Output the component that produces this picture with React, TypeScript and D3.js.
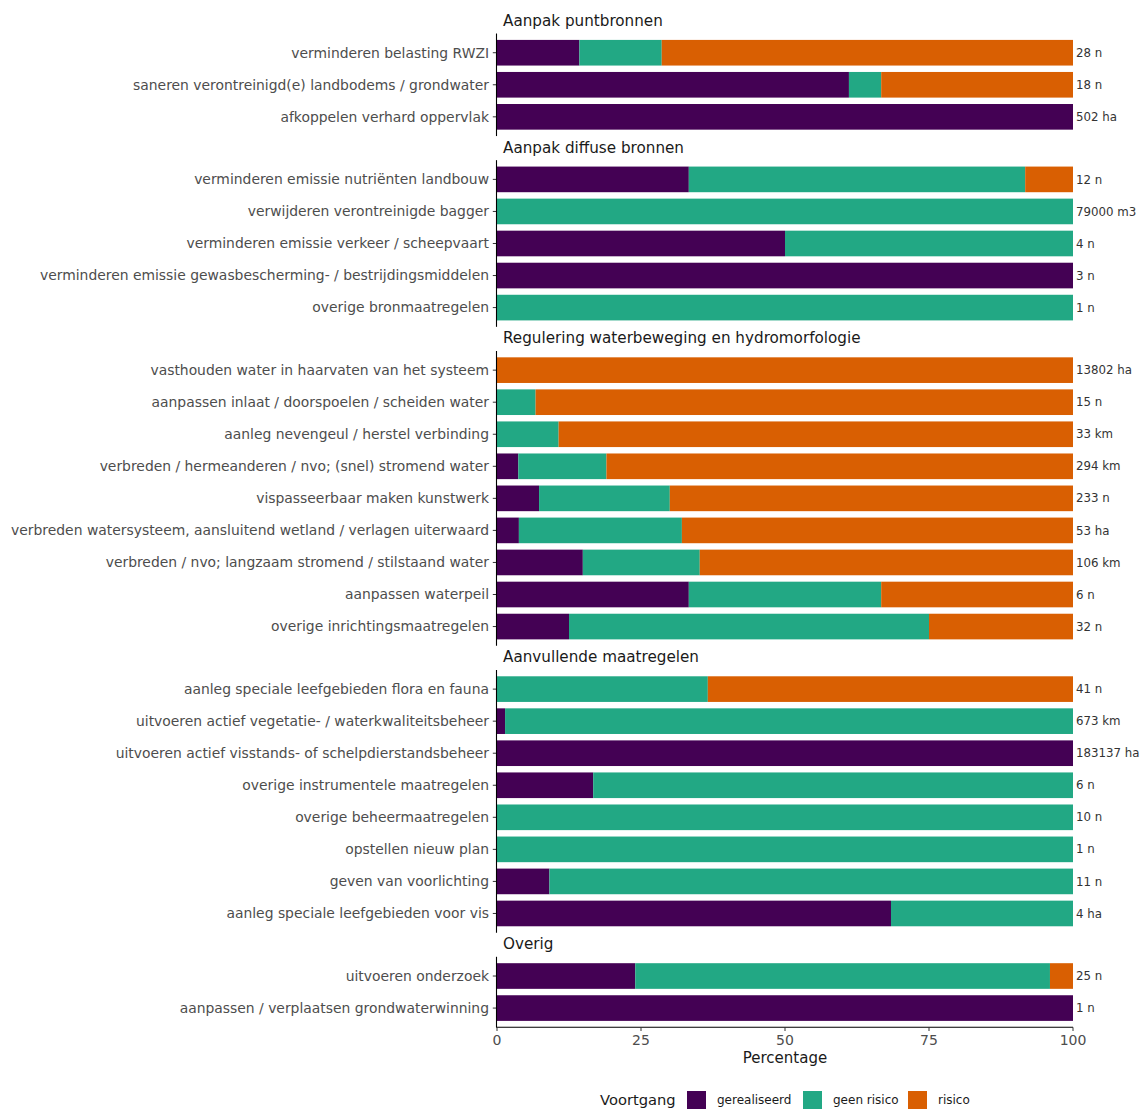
import React from "react";
import * as d3 from "d3";

const groupNames = [
  "Aanpak puntbronnen",
  "Aanpak diffuse bronnen",
  "Regulering waterbeweging en hydromorfologie",
  "Aanvullende maatregelen",
  "Overig",
];

const measureGroup = [
  0, 0, 0,
  1, 1, 1, 1, 1,
  2, 2, 2, 2, 2, 2, 2, 2, 2,
  3, 3, 3, 3, 3, 3, 3, 3,
  4, 4,
];

const measures = [
  "verminderen belasting RWZI",
  "saneren verontreinigd(e) landbodems / grondwater",
  "afkoppelen verhard oppervlak",
  "verminderen emissie nutriënten landbouw",
  "verwijderen verontreinigde bagger",
  "verminderen emissie verkeer / scheepvaart",
  "verminderen emissie gewasbescherming- / bestrijdingsmiddelen",
  "overige bronmaatregelen",
  "vasthouden water in haarvaten van het systeem",
  "aanpassen inlaat / doorspoelen / scheiden water",
  "aanleg nevengeul / herstel verbinding",
  "verbreden / hermeanderen / nvo; (snel) stromend water",
  "vispasseerbaar maken kunstwerk",
  "verbreden watersysteem, aansluitend wetland / verlagen uiterwaard",
  "verbreden / nvo; langzaam stromend / stilstaand water",
  "aanpassen waterpeil",
  "overige inrichtingsmaatregelen",
  "aanleg speciale leefgebieden flora en fauna",
  "uitvoeren actief vegetatie- / waterkwaliteitsbeheer",
  "uitvoeren actief visstands- of schelpdierstandsbeheer",
  "overige instrumentele maatregelen",
  "overige beheermaatregelen",
  "opstellen nieuw plan",
  "geven van voorlichting",
  "aanleg speciale leefgebieden voor vis",
  "uitvoeren onderzoek",
  "aanpassen / verplaatsen grondwaterwinning",
];

const gerealiseerd = [
  14.3, 61.1, 100,
  33.3, 0, 50, 100, 0,
  0, 0, 0, 3.7, 7.3, 3.8, 14.9, 33.3, 12.5,
  0, 1.4, 100, 16.7, 0, 0, 9.1, 68.4,
  24, 100,
];

const geenRisico = [
  14.3, 5.6, 0,
  58.4, 100, 50, 0, 100,
  0, 6.7, 10.7, 15.3, 22.7, 28.3, 20.3, 33.4, 62.5,
  36.6, 98.6, 0, 83.3, 100, 100, 90.9, 31.6,
  72, 0,
];

const risico = [
  71.4, 33.3, 0,
  8.3, 0, 0, 0, 0,
  100, 93.3, 89.3, 81.0, 70.0, 67.9, 64.8, 33.3, 25,
  63.4, 0, 0, 0, 0, 0, 0, 0,
  4, 0,
];

const totals = [
  "28 n", "18 n", "502 ha",
  "12 n", "79000 m3", "4 n", "3 n", "1 n",
  "13802 ha", "15 n", "33 km", "294 km", "233 n", "53 ha", "106 km", "6 n", "32 n",
  "41 n", "673 km", "183137 ha", "6 n", "10 n", "1 n", "11 n", "4 ha",
  "25 n", "1 n",
];

const seriesNames = ["gerealiseerd", "geen risico", "risico"];
const seriesColors = ["#440154", "#22a884", "#d95f02"];
const xTicks = [0, 25, 50, 75, 100];
const legendTitle = "Voortgang";
const xTitle = "Percentage";

const FONT = "'DejaVu Sans', sans-serif";

export default function App() {
  const W = 1143;
  const H = 1110;
  const x = d3.scaleLinear().domain([0, 100]).range([497, 1073]);
  const top0 = 33.5;
  const step = 32.05;
  const stripH = 24.1;

  const rows = measures.map((m, i) => ({
    key: String(i),
    "gerealiseerd": gerealiseerd[i],
    "geen risico": geenRisico[i],
    "risico": risico[i],
  }));
  const stacked = d3.stack<any>().keys(seriesNames)(rows);

  let yCursor = top0;
  const panels = groupNames.map((name, gi) => {
    const idx = measures.map((_, i) => i).filter((i) => measureGroup[i] === gi);
    const h = (idx.length + 0.2) * step;
    const yScale = d3
      .scaleBand<string>()
      .domain(idx.map(String))
      .range([yCursor, yCursor + h])
      .paddingInner(0.2)
      .paddingOuter(0.2);
    const p = { name, top: yCursor, bottom: yCursor + h, idx, yScale };
    yCursor += h + stripH;
    return p;
  });
  const lastBottom = panels[panels.length - 1].bottom;
  const axisX = 496.5;

  // legend layout
  const legendY = 1100;
  const legendItems = [
    { x: 687, tx: 717 },
    { x: 803, tx: 833 },
    { x: 908, tx: 938 },
  ];

  return (
    <svg
      width={W}
      height={H}
      style={{ position: "absolute", left: 0, top: 0, background: "#fff" }}
      fontFamily={FONT}
    >
      <rect x={0} y={0} width={W} height={H} fill="#fff" />
      {panels.map((p, pi) => (
        <g key={pi}>
          <text x={503} y={p.top - 7.5} fontSize={15.2} fill="#1a1a1a">
            {p.name}
          </text>
          {stacked.map((s, si) =>
            p.idx.map((i) => {
              const d = s[i];
              const w = x(d[1]) - x(d[0]);
              if (w <= 0) return null;
              return (
                <rect
                  key={si + "-" + i}
                  x={x(d[0])}
                  y={p.yScale(String(i))}
                  width={w}
                  height={p.yScale.bandwidth()}
                  fill={seriesColors[si]}
                />
              );
            })
          )}
          {p.idx.map((i) => {
            const cy = (p.yScale(String(i)) as number) + p.yScale.bandwidth() / 2;
            return (
              <g key={"lab" + i}>
                <line x1={492.8} x2={axisX} y1={cy} y2={cy} stroke="#333" strokeWidth={1} />
                <text
                  x={489}
                  y={cy}
                  dy="0.35em"
                  textAnchor="end"
                  fontSize={13.9}
                  fill="#4d4d4d"
                >
                  {measures[i]}
                </text>
                <text x={1076} y={cy} dy="0.35em" fontSize={11.8} fill="#333">
                  {totals[i]}
                </text>
              </g>
            );
          })}
          <line x1={axisX} x2={axisX} y1={p.top} y2={p.bottom} stroke="#000" strokeWidth={1.1} />
        </g>
      ))}
      <line x1={axisX - 0.5} x2={1073} y1={lastBottom} y2={lastBottom} stroke="#000" strokeWidth={1.1} />
      {xTicks.map((t) => (
        <g key={t}>
          <line x1={x(t)} x2={x(t)} y1={lastBottom} y2={lastBottom + 3.7} stroke="#333" strokeWidth={1} />
          <text x={x(t)} y={1045} textAnchor="middle" fontSize={14} fill="#4d4d4d">
            {t}
          </text>
        </g>
      ))}
      <text x={x(50)} y={1062.5} textAnchor="middle" fontSize={15} fill="#1a1a1a">
        {xTitle}
      </text>
      <text x={600} y={legendY} dy="0.35em" fontSize={14.7} fill="#1a1a1a">
        {legendTitle}
      </text>
      {seriesNames.map((s, si) => (
        <g key={s}>
          <rect x={legendItems[si].x} y={legendY - 9} width={19} height={18} fill={seriesColors[si]} />
          <text x={legendItems[si].tx} y={legendY} dy="0.35em" fontSize={12} fill="#1a1a1a">
            {s}
          </text>
        </g>
      ))}
    </svg>
  );
}
